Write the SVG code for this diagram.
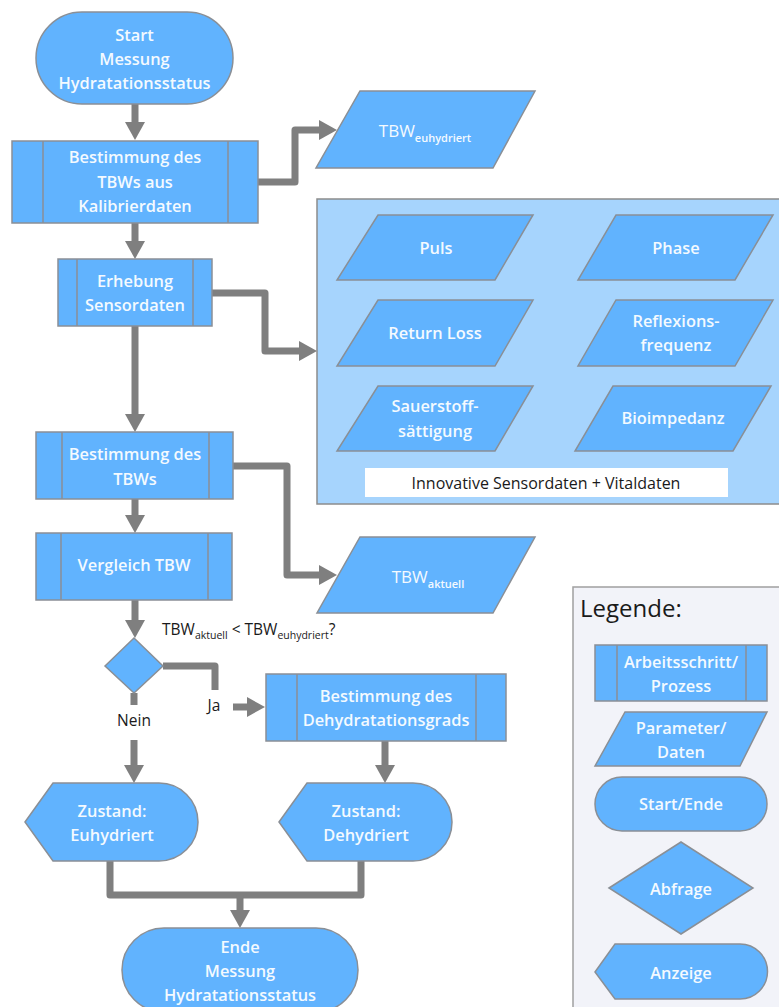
<svg xmlns="http://www.w3.org/2000/svg" width="779" height="1007" viewBox="0 0 779 1007">
<style>
.s{fill:#61b3fe;stroke:#8a8f96;stroke-width:1.5}
.ln{stroke:#8a8f96;stroke-width:1.5;fill:none}
.t{font-family:"Open Sans","Liberation Sans",sans-serif;font-size:16.4px;font-weight:600;fill:#f4faff;text-anchor:middle}
.d{font-family:"Open Sans","Liberation Sans",sans-serif;font-size:15.5px;fill:#1a1a1a}
.c{fill:none;stroke:#7f7f7f;stroke-width:7;stroke-linejoin:round}
</style>
<defs>
<marker id="ah" markerUnits="userSpaceOnUse" viewBox="0 0 18 20" markerWidth="18" markerHeight="20" refX="8" refY="10" orient="auto">
<path d="M0,0 L18,10 L0,20 Z" fill="#7f7f7f"/>
</marker>
</defs>
<rect width="779" height="1007" fill="#ffffff"/>

<g id="sensorbox">
<rect x="317" y="199" width="470" height="305" fill="#a6d4fd" stroke="#8c8c8c" stroke-width="1.5"/>
<rect x="365" y="468" width="363" height="29" fill="#ffffff"/>
<text class="d" x="546" y="489" text-anchor="middle" style="font-size:16px">Innovative Sensordaten + Vitaldaten</text>
</g>
<g id="legend">
<rect x="573" y="587" width="220" height="430" fill="#f2f3f9" stroke="#a0a0a0" stroke-width="1.5"/>
<text class="d" x="580" y="617" style="font-size:24px">Legende:</text>
</g>

<g id="connectors">
<path class="c" marker-end="url(#ah)" d="M135,104 V130"/>
<path class="c" marker-end="url(#ah)" d="M135,223 V249"/>
<path class="c" marker-end="url(#ah)" d="M135,326 V422"/>
<path class="c" marker-end="url(#ah)" d="M135,499 V523"/>
<path class="c" marker-end="url(#ah)" d="M135,600 V628"/>
<path class="c" marker-end="url(#ah)" d="M258,182 H295 V130 H327"/>
<path class="c" marker-end="url(#ah)" d="M212,293 H265 V351 H307"/>
<path class="c" marker-end="url(#ah)" d="M233,466 H287 V575 H327"/>
<path class="c" d="M163,666 H215 V690"/>
<path class="c" marker-end="url(#ah)" d="M233,707 H255"/>
<path class="c" d="M134,693 V705"/>
<path class="c" marker-end="url(#ah)" d="M134,740 V773"/>
<path class="c" marker-end="url(#ah)" d="M385,741 V773"/>
<path class="c" d="M110,861 V895 H361 V861"/>
<path class="c" marker-end="url(#ah)" d="M240,895 V918"/>
<text class="d" x="214" y="711" text-anchor="middle">Ja</text>
<text class="d" x="134" y="726" text-anchor="middle">Nein</text>
<text class="d" x="162" y="635">TBW<tspan dy="4" style="font-size:10.5px">aktuell</tspan><tspan dy="-4"> &lt; TBW</tspan><tspan dy="4" style="font-size:10.5px">euhydriert</tspan><tspan dy="-4">?</tspan></text>
</g>

<g id="start">
<rect class="s" x="36" y="12" width="197" height="92" rx="46"/>
<text class="t" x="134.5" y="41">Start</text>
<text class="t" x="134.5" y="65">Messung</text>
<text class="t" x="134.5" y="89">Hydratationsstatus</text>
</g>
<g id="p1">
<rect class="s" x="12" y="141" width="246" height="82"/>
<path class="ln" d="M43,141 V223 M228,141 V223"/>
<text class="t" x="135" y="163">Bestimmung des</text>
<text class="t" x="135" y="188">TBWs aus</text>
<text class="t" x="135" y="212">Kalibrierdaten</text>
</g>
<g id="tbweu">
<polygon class="s" points="360,91 535,91 493,168 316,168"/>
<text class="t" x="425" y="137" style="font-weight:400;font-size:17px">TBW<tspan dy="5" style="font-size:11px;font-weight:600">euhydriert</tspan></text>
</g>
<g id="p2">
<rect class="s" x="58" y="259" width="154" height="67"/>
<path class="ln" d="M77,259 V326 M193,259 V326"/>
<text class="t" x="135" y="287">Erhebung</text>
<text class="t" x="135" y="311">Sensordaten</text>
</g>
<g id="puls">
<polygon class="s" points="378,215 533,215 495,280 337,280"/>
<text class="t" x="436" y="254">Puls</text>
</g>
<g id="phase">
<polygon class="s" points="616,215 773,215 735,280 578,280"/>
<text class="t" x="676" y="254">Phase</text>
</g>
<g id="returnloss">
<polygon class="s" points="378,300 533,300 495,366 337,366"/>
<text class="t" x="435" y="339">Return Loss</text>
</g>
<g id="reflexion">
<polygon class="s" points="616,300 773,300 735,366 578,366"/>
<text class="t" x="676" y="327">Reflexions-</text>
<text class="t" x="676" y="351">frequenz</text>
</g>
<g id="sauerstoff">
<polygon class="s" points="378,386 533,386 495,451 337,451"/>
<text class="t" x="435" y="412">Sauerstoff-</text>
<text class="t" x="435" y="437">sättigung</text>
</g>
<g id="bioimpedanz">
<polygon class="s" points="613,386 771,386 733,451 575,451"/>
<text class="t" x="673" y="424">Bioimpedanz</text>
</g>
<g id="p3">
<rect class="s" x="36" y="432" width="197" height="67"/>
<path class="ln" d="M62,432 V499 M209,432 V499"/>
<text class="t" x="135" y="460">Bestimmung des</text>
<text class="t" x="135" y="485">TBWs</text>
</g>
<g id="p4">
<rect class="s" x="36" y="533" width="196" height="67"/>
<path class="ln" d="M61,533 V600 M208,533 V600"/>
<text class="t" x="134" y="571">Vergleich TBW</text>
</g>
<g id="tbwakt">
<polygon class="s" points="360,537 535,537 493,613 317,613"/>
<text class="t" x="428" y="583" style="font-weight:400;font-size:17px">TBW<tspan dy="5" style="font-size:11px;font-weight:600">aktuell</tspan></text>
</g>
<g id="decision">
<polygon class="s" points="105,666 134,638 163,666 134,693"/>
</g>
<g id="p5">
<rect class="s" x="266" y="674" width="240" height="67"/>
<path class="ln" d="M297,674 V741 M476,674 V741"/>
<text class="t" x="386" y="702">Bestimmung des</text>
<text class="t" x="386" y="726">Dehydratationsgrads</text>
</g>
<g id="euhydriert">
<path class="s" d="M25,822 L53,783 H159 A39,39 0 0 1 159,861 H53 Z"/>
<text class="t" x="112" y="817">Zustand:</text>
<text class="t" x="112" y="841">Euhydriert</text>
</g>
<g id="dehydriert">
<path class="s" d="M279,822 L307,783 H413 A39,39 0 0 1 413,861 H307 Z"/>
<text class="t" x="366" y="817">Zustand:</text>
<text class="t" x="366" y="841">Dehydriert</text>
</g>
<g id="ende">
<rect class="s" x="122" y="928" width="236" height="84" rx="42"/>
<text class="t" x="240" y="953">Ende</text>
<text class="t" x="240" y="977">Messung</text>
<text class="t" x="240" y="1001">Hydratationsstatus</text>
</g>

<g id="leg-process">
<rect class="s" x="595" y="645" width="172" height="56"/>
<path class="ln" d="M617,645 V701 M746,645 V701"/>
<text class="t" x="681" y="668">Arbeitsschritt/</text>
<text class="t" x="681" y="692">Prozess</text>
</g>
<g id="leg-data">
<polygon class="s" points="625,712 767,712 740,766 595,766"/>
<text class="t" x="681" y="734">Parameter/</text>
<text class="t" x="681" y="758">Daten</text>
</g>
<g id="leg-start">
<rect class="s" x="595" y="777" width="172" height="54" rx="27"/>
<text class="t" x="681" y="810">Start/Ende</text>
</g>
<g id="leg-decision">
<polygon class="s" points="609,888 681,842 753,888 681,934"/>
<text class="t" x="681" y="895">Abfrage</text>
</g>
<g id="leg-display">
<path class="s" d="M595,972 L615,944 H740 A27.5,27.5 0 0 1 740,999 H615 Z"/>
<text class="t" x="681" y="979">Anzeige</text>
</g>
</svg>
